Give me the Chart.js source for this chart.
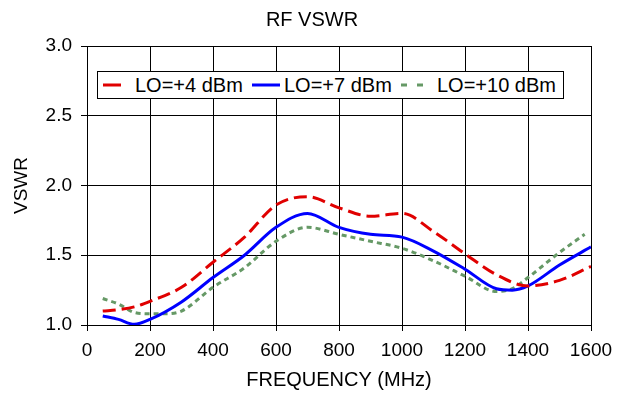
<!DOCTYPE html>
<html>
<head>
<meta charset="utf-8">
<script src="https://cdn.jsdelivr.net/npm/chart.js@4.4.0/dist/chart.umd.min.js"></script>
<style>
  html, body { margin: 0; padding: 0; background: #fff; }
  #wrap { position: relative; width: 628px; height: 393px; }
  #title {
    position: absolute; left: 0; width: 624px; top: 8px; text-align: center;
    font-family: "Liberation Sans", Arial, sans-serif; font-size: 20px; color: #000;
  }
  #legend {
    position: absolute; left: 97px; top: 71px; width: 465px; height: 26px;
    border: 1px solid #000; background: #fff;
    font-family: "Liberation Sans", Arial, sans-serif; font-size: 20px; color: #000;
    white-space: nowrap;
  }
  #legend .item { position: absolute; top: 1px; line-height: 24px; }
  #legend svg { position: absolute; top: 0; }
</style>
</head>
<body>
<div id="wrap">
  <canvas id="vswrChart" width="628" height="393"></canvas>
  <div id="title">RF VSWR</div>
  <div id="legend"></div>
</div>
<script>
const seriesNames = ['LO=+4 dBm', 'LO=+7 dBm', 'LO=+10 dBm'];

const freqLo4 = [50, 100, 150, 200, 300, 400, 500, 600, 700, 800, 900, 1000, 1100, 1200, 1300, 1400, 1500, 1600];
const vswrLo4 = [1.10, 1.11, 1.13, 1.17, 1.27, 1.45, 1.63, 1.86, 1.92, 1.84, 1.78, 1.80, 1.67, 1.51, 1.36, 1.28, 1.32, 1.42];

const freqLo7 = [50, 100, 150, 200, 300, 400, 500, 600, 700, 800, 900, 1000, 1100, 1200, 1300, 1350, 1400, 1500, 1600];
const vswrLo7 = [1.065, 1.04, 1.005, 1.04, 1.165, 1.34, 1.50, 1.70, 1.80, 1.70, 1.65, 1.63, 1.53, 1.40, 1.26, 1.25, 1.28, 1.43, 1.56];

const freqLo10 = [50, 100, 150, 200, 250, 300, 400, 500, 600, 700, 800, 900, 1000, 1100, 1200, 1300, 1350, 1400, 1500, 1580];
const vswrLo10 = [1.19, 1.15, 1.09, 1.08, 1.08, 1.10, 1.27, 1.41, 1.60, 1.70, 1.65, 1.60, 1.55, 1.46, 1.35, 1.24, 1.26, 1.34, 1.52, 1.65];

const xTicks = [0, 200, 400, 600, 800, 1000, 1200, 1400, 1600];
const yTicks = [1.0, 1.5, 2.0, 2.5, 3.0];

const colors = ['#e00000', '#0000ff', '#669966'];
const dashes = [[13, 6], [], [5, 4]];

function toPoints(xs, ys) {
    return xs.map((x, i) => ({ x: x, y: ys[i] }));
}

const fontFamily = '"Liberation Sans", Arial, sans-serif';

const ctx = document.getElementById('vswrChart').getContext('2d');
new Chart(ctx, {
    type: 'line',
    data: {
        datasets: [
            { label: seriesNames[0], data: toPoints(freqLo4, vswrLo4) },
            { label: seriesNames[1], data: toPoints(freqLo7, vswrLo7) },
            { label: seriesNames[2], data: toPoints(freqLo10, vswrLo10) }
        ].map((ds, i) => Object.assign(ds, {
            borderColor: colors[i],
            borderWidth: 3,
            borderDash: dashes[i],
            pointRadius: 0,
            fill: false,
            cubicInterpolationMode: 'monotone'
        }))
    },
    options: {
        responsive: false,
        animation: false,
        layout: { padding: { left: 0, right: 37, top: 46, bottom: 0 } },
        plugins: {
            legend: { display: false },
            tooltip: { enabled: false },
            title: { display: false }
        },
        scales: {
            x: {
                type: 'linear',
                min: 0,
                max: 1600,
                afterFit: scale => { scale.height = 68; },
                afterBuildTicks: scale => { scale.ticks = xTicks.map(v => ({ value: v })); },
                grid: { color: '#000', lineWidth: 1, tickLength: 6, drawTicks: true },
                border: { color: '#000', width: 1 },
                ticks: {
                    color: '#000',
                    font: { family: fontFamily, size: 19 },
                    padding: 8,
                    maxRotation: 0,
                    callback: v => String(v)
                },
                title: {
                    display: true,
                    text: 'FREQUENCY (MHz)',
                    color: '#000',
                    font: { family: fontFamily, size: 20 },
                    padding: { top: 0, bottom: 1 }
                }
            },
            y: {
                min: 1,
                max: 3,
                afterFit: scale => { scale.width = 87; },
                afterBuildTicks: scale => { scale.ticks = yTicks.map(v => ({ value: v })); },
                grid: { color: '#000', lineWidth: 1, tickLength: 6 },
                border: { color: '#000', width: 1 },
                ticks: {
                    color: '#000',
                    font: { family: fontFamily, size: 19 },
                    padding: 9,
                    callback: v => Number(v).toFixed(1)
                },
                title: {
                    display: true,
                    text: 'VSWR',
                    color: '#000',
                    font: { family: fontFamily, size: 19 },
                    padding: { top: 10, bottom: 0 }
                }
            }
        }
    }
});

// leyenda dentro del area del grafico
const legendPos = [
    { sample: 5, width: 18, text: 37 },
    { sample: 154, width: 28, text: 186 },
    { sample: 303, width: 24, text: 339 }
];
const legend = document.getElementById('legend');
seriesNames.forEach((name, i) => {
    const p = legendPos[i];
    const svg = document.createElementNS('http://www.w3.org/2000/svg', 'svg');
    svg.setAttribute('width', p.width);
    svg.setAttribute('height', 26);
    svg.style.left = p.sample + 'px';
    const line = document.createElementNS('http://www.w3.org/2000/svg', 'line');
    line.setAttribute('x1', 0);
    line.setAttribute('x2', p.width);
    line.setAttribute('y1', 13);
    line.setAttribute('y2', 13);
    line.setAttribute('stroke', colors[i]);
    line.setAttribute('stroke-width', 3);
    if (i === 2) line.setAttribute('stroke-dasharray', '6 10');
    svg.appendChild(line);
    legend.appendChild(svg);
    const span = document.createElement('span');
    span.className = 'item';
    span.style.left = p.text + 'px';
    span.textContent = name;
    legend.appendChild(span);
});
</script>
</body>
</html>
